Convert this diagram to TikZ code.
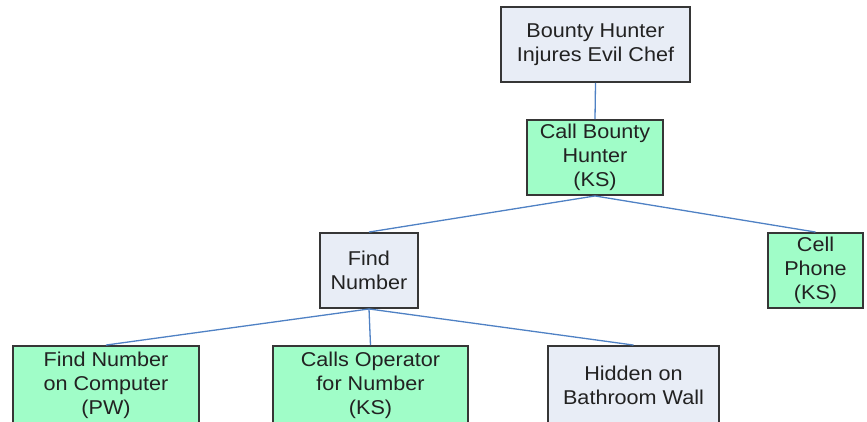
\documentclass[tikz,border=0pt]{standalone}
\usepackage{fontspec}
\setmainfont{Liberation Sans}[FakeStretch=1.08]
\begin{document}
\begin{tikzpicture}[x=1pt,y=-1pt,
  box/.style={draw=boxline, line width=1.9pt, rectangle, minimum height=75pt,
    inner sep=0pt, align=center, text=txt,
    font=\fontsize{20pt}{24pt}\selectfont},
  greybox/.style={box, fill=greyfill},
  greenbox/.style={box, fill=greenfill},
  lowbox/.style={minimum height=78pt},
  link/.style={draw=linkblue, line width=1.3pt}]
  \definecolor{boxline}{HTML}{363636}
  \definecolor{greyfill}{HTML}{E8EDF6}
  \definecolor{greenfill}{HTML}{A0FDC8}
  \definecolor{linkblue}{HTML}{4F81C4}
  \definecolor{txt}{HTML}{222222}
  \useasboundingbox (0,0) rectangle (867,421);
  \clip (0,0) rectangle (867,421);

  % boxes
  \node[greybox, minimum width=189pt] (top) at (595.5,44.5) {Bounty Hunter\\Injures Evil Chef};
  \node[greenbox, minimum width=136pt] (call) at (595,157.5) {Call Bounty\\Hunter\\(KS)};
  \node[greybox, minimum width=98pt] (find) at (369,270.5) {Find\\Number};
  \node[greenbox, minimum width=95pt] (cell) at (815.5,270.5) {Cell\\Phone\\(KS)};
  \node[greenbox, lowbox, minimum width=186pt] (comp) at (106,385) {Find Number\\on Computer\\(PW)};
  \node[greenbox, lowbox, minimum width=195pt] (oper) at (370.5,385) {Calls Operator\\for Number\\(KS)};
  \node[greybox, lowbox, minimum width=171pt] (wall) at (633.5,385) {Hidden on\\Bathroom Wall};

  % connectors
  \draw[link] (top.south) -- (call.north);
  \draw[link] (call.south) -- (find.north);
  \draw[link] (call.south) -- (cell.north);
  \draw[link] (find.south) -- (comp.north);
  \draw[link] (find.south) -- (oper.north);
  \draw[link] (find.south) -- (wall.north);
\end{tikzpicture}
\end{document}
